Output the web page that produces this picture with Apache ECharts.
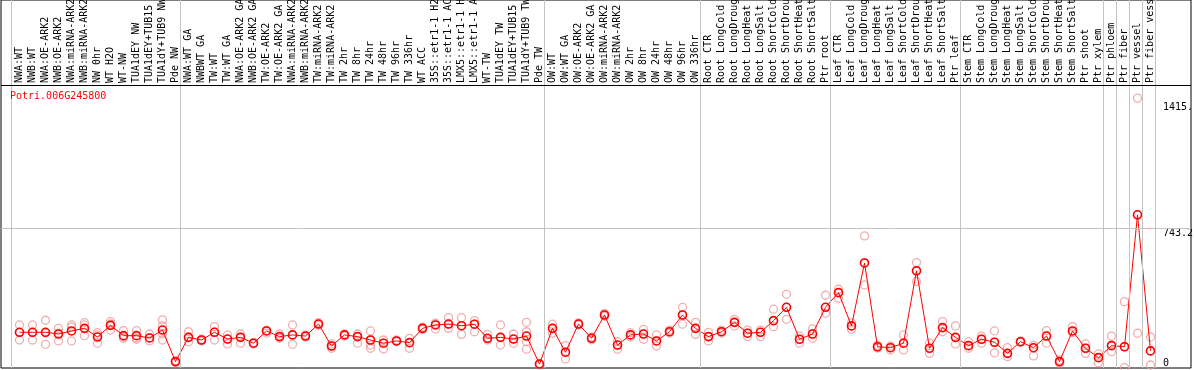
<!DOCTYPE html>
<html>
<head>
<meta charset="utf-8">
<script src="https://cdn.jsdelivr.net/npm/echarts@6/dist/echarts.min.js"></script>
<style>
html,body{margin:0;padding:0;background:#fff;}
#chart{width:1194px;height:370px;}
</style>
</head>
<body>
<div id="chart"></div>
<script>
const geneId = 'Potri.006G245800';

const categories = [
  'NWA:WT','NWB:WT','NWA:OE-ARK2','NWB:OE-ARK2','NWA:miRNA-ARK2','NWB:miRNA-ARK2','NW 0hr','WT H2O','WT-NW','TUA1dEY NW','TUA1dEY+TUB15 NW','TUA1dY+TUB9 NW','Pde NW',
  'NWA:WT GA','NWBWT GA','TW:WT','TW:WT GA','NWA:OE-ARK2 GA','NWB:OE-ARK2 GA','TW:OE-ARK2','TW:OE-ARK2 GA','NWA:miRNA-ARK2 GA','NWB:miRNA-ARK2 GA','TW:miRNA-ARK2','TW:miRNA-ARK2 GA',
  'TW 2hr','TW 8hr','TW 24hr','TW 48hr','TW 96hr','TW 336hr','WT ACC','35S::etr1-1 H2O','35S::etr1-1 ACC','LMX5::etr1-1 H2O','LMX5::etr1-1 ACC','WT-TW','TUA1dEY TW','TUA1dEY+TUB15 TW','TUA1dY+TUB9 TW','Pde TW',
  'OW:WT','OW:WT GA','OW:OE-ARK2','OW:OE-ARK2 GA','OW:miRNA-ARK2','OW:miRNA-ARK2 GA','OW 2hr','OW 8hr','OW 24hr','OW 48hr','OW 96hr','OW 336hr',
  'Root CTR','Root LongCold','Root LongDrought','Root LongHeat','Root LongSalt','Root ShortCold','Root ShortDrought','Root ShortHeat','Root ShortSalt','Ptr root',
  'Leaf CTR','Leaf LongCold','Leaf LongDrought','Leaf LongHeat','Leaf LongSalt','Leaf ShortCold','Leaf ShortDrought','Leaf ShortHeat','Leaf ShortSalt','Ptr leaf',
  'Stem CTR','Stem LongCold','Stem LongDrought','Stem LongHeat','Stem LongSalt','Stem ShortCold','Stem ShortDrought','Stem ShortHeat','Stem ShortSalt','Ptr shoot','Ptr xylem',
  'Ptr phloem','Ptr fiber','Ptr vessel','Ptr fiber vessel'
];

const means = [
  190,190,190,181,197,211,165,227,172,172,160,202,34,
  163,149,190,154,163,132,197,167,176,170,234,117,176,167,149,132,144,135,211,229,234,225,233,158,163,154,170,21,
  211,84,234,158,282,122,176,181,144,193,282,211,
  167,193,243,185,190,252,323,153,181,323,
  401,224,559,113,108,132,517,105,215,163,
  119,153,137,78,140,108,170,34,197,105,55,
  119,113,815,91
];

const replicates = [
  [229,190,149],[229,190,149],[254,186,126],[211,186,144],[229,218,144],[241,229,172],[188,176,132],[247,234,202],[199,165,158],[199,160,153],[181,160,144],[256,224,149,181],[30,34,38],
  [193,165,140],[145,149,153],[220,192,149],[176,154,128],[181,165,132],[128,132,136],[197,200,186],[181,167,158],[229,176,126],[165,170,175],[241,234,227],[117,105,128],[170,176,181],[181,167,132],[197,149,122,105],[149,132,101],[140,144,149],[158,135,105],[218,211,205],[238,229,208],[268,234,211],[268,225,179],[252,233,193],[179,158,149],[229,163,122],[181,154,132],[243,193,140,100],[18,21,24],
  [233,211,185],[119,84,48],[240,234,229],[150,158,165],[275,282,290],[140,122,100],[188,176,165],[206,181,153],[176,144,117],[202,193,186],[323,282,233],[243,211,179],
  [190,167,144],[202,193,186],[259,243,224],[202,185,167],[202,190,167],[313,252,220],[392,323,259],[153,132,170],[208,181,158],[387,323,291],
  [419,401,371],[240,224,206],[703,559,442],[113,122,106],[108,96,117],[176,132,96],[561,517,460],[132,105,78],[247,215,193],[224,163,128],
  [140,119,105],[170,153,132],[197,137,81],[108,78,60],[136,140,144],[122,108,64],[199,170,132],[43,34,27],[220,197,188],[128,105,78],[75,55,28],
  [170,122,87],[353,113,2],[1436,815,185],[165,91,16]
];

// indices where a new group of samples starts (vertical separators)
const groupBounds = [0,13,41,53,63,73,84,85,86,87,88];

const yTickValues = [0, 743.2, 1415];
const yTickLabels = ['0', '743.2', '1415.'];
const yMax = 1958;

// layout constants (pixels)
const CELL = 13, FRAME_L = 1, FRAME_W = 1190, FRAME_H = 368, HEADER_H = 85;
const POINT_OFF = 18.5, SEP_OFF = 10.5;
const xMin = -POINT_OFF / CELL;
const xMax = (FRAME_W - POINT_OFF) / CELL;
const headerValue = yMax * (FRAME_H - HEADER_H) / FRAME_H;

const FONT = 'DejaVu Sans Mono';

const meanData = means.map((v, i) => [i, v]);
const repData = [];
replicates.forEach((arr, i) => arr.forEach(v => repData.push([i, v])));

const markData = groupBounds.map(k => ({
  xAxis: k - (POINT_OFF - SEP_OFF) / CELL,
  lineStyle: {color: '#c4c4c4', width: 1, type: 'solid'}
}));
markData.push({yAxis: yTickValues[1], lineStyle: {color: '#c4c4c4', width: 1, type: 'solid'}});
markData.push({yAxis: headerValue, lineStyle: {color: '#000', width: 1, type: 'solid'}});

const chart = echarts.init(document.getElementById('chart'), null, {renderer: 'canvas'});
chart.setOption({
  animation: false,
  backgroundColor: '#fff',
  title: {
    text: geneId, left: 10, top: 91, padding: 0,
    textStyle: {color: '#ff0000', fontSize: 10, fontFamily: FONT, fontWeight: 'normal'}
  },
  grid: [
    {left: FRAME_L, top: 0, width: FRAME_W, height: FRAME_H, show: true, borderColor: '#000', borderWidth: 1,
      backgroundColor: 'transparent', containLabel: false, outerBoundsMode: 'none'},
    {left: FRAME_L + POINT_OFF - CELL / 2, top: HEADER_H, width: CELL * categories.length, height: FRAME_H - HEADER_H,
      show: false, containLabel: false, outerBoundsMode: 'none'}
  ],
  xAxis: [
    {type: 'value', gridIndex: 0, min: xMin, max: xMax, show: false},
    {type: 'category', gridIndex: 1, position: 'top', data: categories,
      axisLine: {show: false}, axisTick: {show: false}, splitLine: {show: false},
      axisLabel: {interval: 0, rotate: 90, margin: 2, align: 'left', verticalAlign: 'middle',
        fontSize: 10, fontFamily: FONT, color: '#000'}}
  ],
  yAxis: [
    {type: 'value', gridIndex: 0, position: 'right', min: 0, max: yMax,
      splitLine: {show: false}, axisLine: {show: false}, axisTick: {show: false},
      axisLabel: {inside: true, customValues: yTickValues,
        formatter: v => yTickLabels[yTickValues.indexOf(v)],
        align: 'left', margin: 28, verticalAlign: 'top', verticalAlignMinLabel: 'bottom',
        fontSize: 10, fontFamily: FONT, color: '#000'}},
    {type: 'value', gridIndex: 1, show: false, min: 0, max: 1}
  ],
  series: [
    {type: 'line', xAxisIndex: 0, yAxisIndex: 0, data: [], z: 1, silent: true,
      markLine: {silent: true, symbol: 'none', label: {show: false}, animation: false, data: markData}},
    {type: 'scatter', xAxisIndex: 0, yAxisIndex: 0, data: repData, z: 2, silent: true,
      symbol: 'circle', symbolSize: 8,
      itemStyle: {color: 'rgba(0,0,0,0)', borderColor: '#ef9a9a', borderWidth: 1.3}},
    {type: 'line', xAxisIndex: 0, yAxisIndex: 0, data: meanData, z: 3, silent: true,
      symbol: 'circle', symbolSize: 8, showAllSymbol: true,
      lineStyle: {color: '#ff0000', width: 1},
      itemStyle: {color: 'rgba(0,0,0,0)', borderColor: '#ff0000', borderWidth: 1.6}}
  ]
});
</script>
</body>
</html>
